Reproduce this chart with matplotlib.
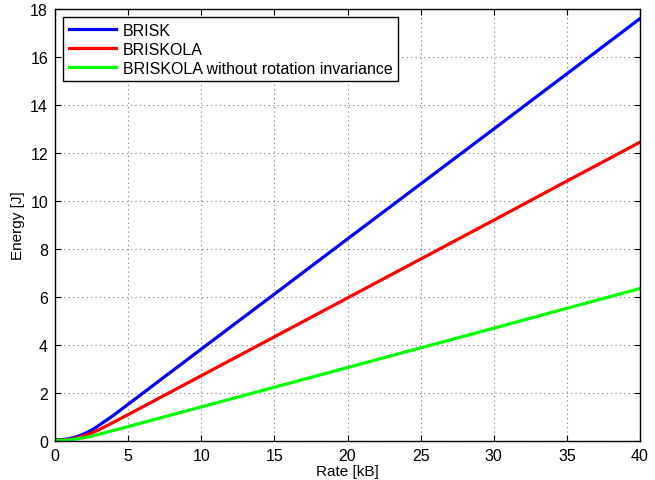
import matplotlib
matplotlib.use("Agg")
import matplotlib.pyplot as plt

plt.rcParams['font.family'] = ['Liberation Sans', 'DejaVu Sans']

# 数据
rate = [0, 0.5, 1, 1.5, 2, 2.5, 3, 3.5, 4, 5, 10, 15, 20, 25, 30, 35, 40]
brisk = [0.05, 0.06, 0.10, 0.18, 0.30, 0.45, 0.65, 0.86, 1.07, 1.53,
         3.83, 6.12, 8.42, 10.71, 13.0, 15.3, 17.6]
briskola = [0.03, 0.04, 0.07, 0.13, 0.22, 0.33, 0.47, 0.62, 0.78, 1.10,
            2.72, 4.34, 5.96, 7.58, 9.20, 10.83, 12.45]
briskola_norot = [0.02, 0.03, 0.05, 0.09, 0.14, 0.20, 0.28, 0.36, 0.44, 0.60,
                  1.42, 2.24, 3.06, 3.88, 4.70, 5.53, 6.35]
labels = ["BRISK", "BRISKOLA", "BRISKOLA without rotation invariance"]

fig = plt.figure(figsize=(6.55, 4.81), dpi=100)
ax = fig.add_axes([55 / 655, 39 / 481, 585 / 655, 432 / 481])

ax.plot(rate, brisk, color="#0000ff", linewidth=2.3, label=labels[0])
ax.plot(rate, briskola, color="#ff0000", linewidth=2.3, label=labels[1])
ax.plot(rate, briskola_norot, color="#00ff00", linewidth=2.3, label=labels[2])

ax.set_xlim(0, 40)
ax.set_ylim(0, 18)
ax.set_xticks(range(0, 41, 5))
ax.set_yticks(range(0, 19, 2))
ax.tick_params(direction="in", top=True, right=True, labelsize=11.5, length=4, pad=5)
ax.grid(True, linestyle=(0, (1, 3)), color="#777777", linewidth=0.8)
for s in ax.spines.values():
    s.set_linewidth(1.0)

# 横轴标签放低一点, 但不要被裁掉
ax.set_xlabel("Rate [kB]", fontsize=11, labelpad=1)
ax.set_ylabel("Energy [J]", fontsize=11)

leg = ax.legend(loc="upper left", fontsize=11.5, fancybox=False, framealpha=1,
                edgecolor="black", handlelength=3.0, borderaxespad=0.5,
                labelspacing=0.25, handletextpad=0.4, borderpad=0.35)
leg.get_frame().set_linewidth(1.0)

fig.savefig("out.png", dpi=100)
